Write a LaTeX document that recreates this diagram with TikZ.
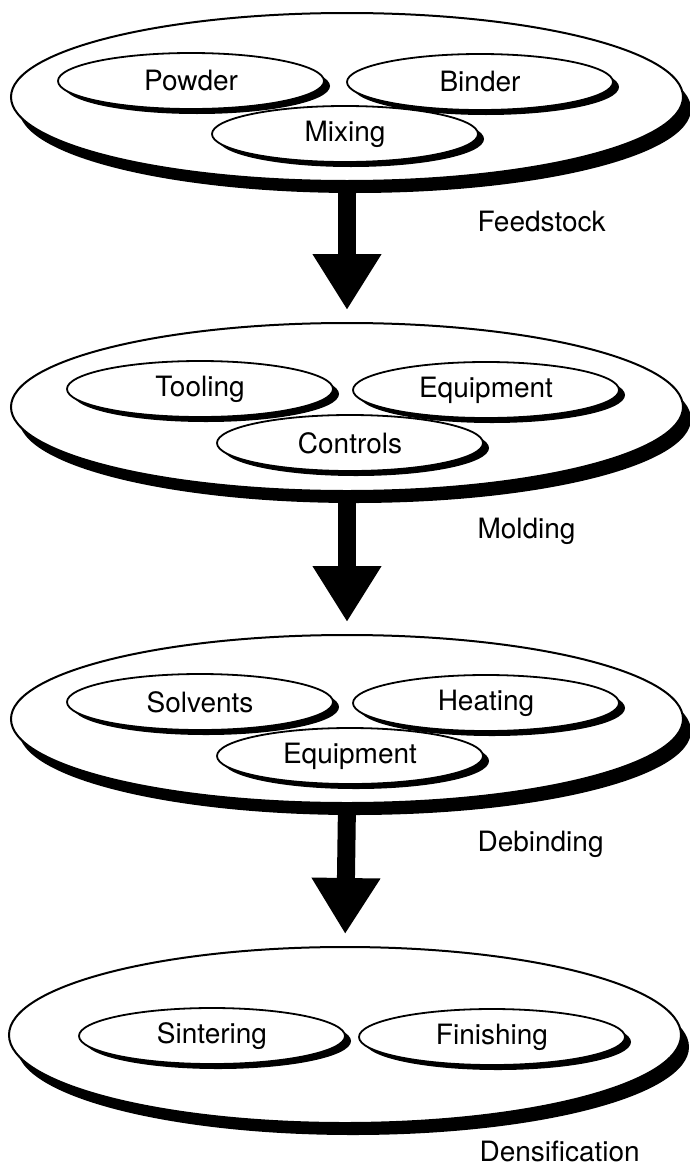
\documentclass[tikz,border=0pt]{standalone}
\usepackage{fontspec}
\setmainfont{TeX Gyre Heros}
\usetikzlibrary{shapes.geometric, arrows.meta, positioning, shadows}

\begin{document}
\begin{tikzpicture}[x=1pt, y=-1pt,
  stage/.style={ellipse, draw, line width=2pt, fill=white,
                minimum width=672pt, minimum height=168pt,
                drop shadow={shadow xshift=8pt, shadow yshift=-12pt,
                             opacity=1, fill=black}},
  part/.style={ellipse, draw, line width=1.8pt, fill=white,
               minimum width=266pt, minimum height=56pt, inner sep=0pt,
               font=\fontsize{28}{30}\selectfont,
               drop shadow={shadow xshift=6pt, shadow yshift=-5pt,
                            opacity=1, fill=black}},
  lbl/.style={anchor=west, text height=20pt, text depth=6pt,
              font=\fontsize{28}{30}\selectfont},
  arr/.style={line width=18pt, -{Triangle[width=65pt, length=56pt]},
              shorten >=12pt}
]
  \useasboundingbox (0,0) rectangle (690,1167);

  % outer stages
  \node[stage] (S1) at (347,97)  {};
  \node[stage] (S2) at (347,407) {};
  \node[stage] (S3) at (347,719) {};
  \node[stage, minimum height=176pt] (S4) at (345,1035) {};

  % feedstock
  \node[part] (powder) at (191,81)  {Powder};
  \node[part] (binder) at (480,82)  {Binder};
  \node[part] (mixing) at (345,134) {Mixing};

  % molding
  \node[part] (tooling) at (200,389) {Tooling};
  \node[part] (equipM)  at (486,390) {Equipment};
  \node[part] (controls) at (350,443) {Controls};

  % debinding
  \node[part] (solvents) at (200,702) {Solvents};
  \node[part] (heating)  at (486,703) {Heating};
  \node[part] (equipD)   at (350,756) {Equipment};

  % densification
  \node[part] (sintering) at (212,1036) {Sintering};
  \node[part] (finishing) at (492,1037) {Finishing};

  \node[lbl] (feed) at (474,224)  {Feedstock};
  \node[lbl] (mold) at (474,531)  {Molding};
  \node[lbl] (debd) at (474,844)  {Debinding};
  \node[lbl] (dens) at (476,1154) {Densification};

  \foreach \a/\b in {S1/S2, S2/S3, S3/S4}
    \draw[arr] (\a.south) -- (\b.north);
\end{tikzpicture}
\end{document}
